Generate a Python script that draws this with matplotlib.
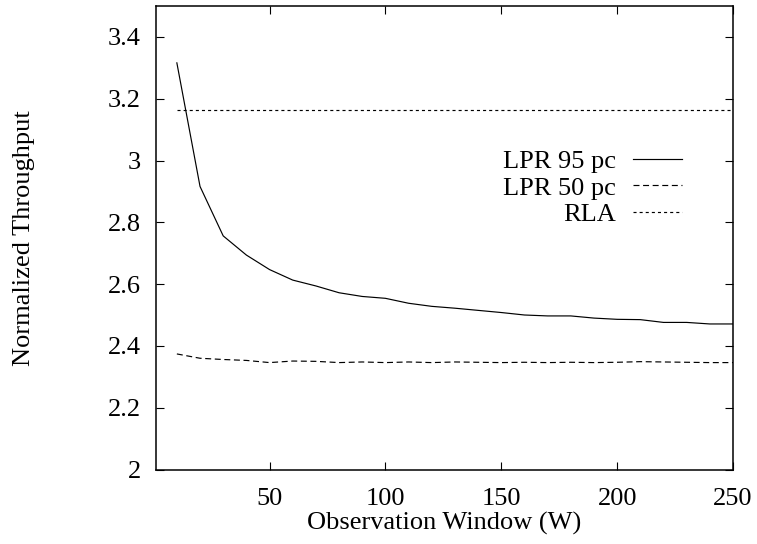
import matplotlib
matplotlib.use("Agg")
import matplotlib.pyplot as plt

plt.rcParams['font.family'] = ['Liberation Serif', 'DejaVu Serif']
plt.rcParams['lines.scale_dashes'] = False

# Observation window sizes
window = [10, 20, 30, 40, 50, 60, 70, 80, 90, 100, 110, 120, 130,
          140, 150, 160, 170, 180, 190, 200, 210, 220, 230, 240, 250]

# Normalized throughput per series
lpr95 = [3.316, 2.916, 2.756, 2.694, 2.647, 2.613, 2.594, 2.572, 2.560,
         2.554, 2.538, 2.528, 2.522, 2.515, 2.508, 2.500, 2.497, 2.497,
         2.490, 2.486, 2.485, 2.476, 2.476, 2.471, 2.471]
lpr50 = [2.374, 2.360, 2.356, 2.353, 2.346, 2.351, 2.350, 2.346, 2.348,
         2.346, 2.348, 2.346, 2.348, 2.347, 2.346, 2.347, 2.346, 2.347,
         2.346, 2.347, 2.349, 2.348, 2.347, 2.346, 2.346]
rla = [3.163] * len(window)

series_labels = ["LPR 95 pc", "LPR 50 pc", "RLA"]
xticks = [50, 100, 150, 200, 250]
yticks = [2.0, 2.2, 2.4, 2.6, 2.8, 3.0, 3.2, 3.4]
ytick_labels = ["2", "2.2", "2.4", "2.6", "2.8", "3", "3.2", "3.4"]

W, H = 757, 544
fig = plt.figure(figsize=(W / 100, H / 100), dpi=100)
ax = fig.add_axes([156 / W, (H - 469.5) / H, (733 - 156) / W, (469.5 - 6) / H])

fs = 19
lw = 0.85
ax.plot(window, lpr95, color='black', lw=lw, linestyle='-', label=series_labels[0])
ax.plot(window, lpr50, color='black', lw=lw, linestyle=(0, (4.3, 2.6)), label=series_labels[1])
ax.plot(window, rla, color='black', lw=lw, linestyle=(0, (2.2, 2.2)), label=series_labels[2])

ax.set_xlim(1, 250)
ax.set_ylim(2.0, 3.5)
ax.set_xticks(xticks)
ax.set_xticklabels([str(t) for t in xticks])
ax.set_yticks(yticks)
ax.set_yticklabels(ytick_labels)
ax.tick_params(direction='in', length=6, width=0.8, top=True, right=True,
               labelsize=fs, pad=11, colors='black')
ax.tick_params(axis='x', pad=13)
for s in ax.spines.values():
    s.set_linewidth(1.1)
    s.set_color('black')

ax.set_xlabel("Observation Window (W)", fontsize=fs, labelpad=2)
ax.set_ylabel("Normalized Throughput", fontsize=fs, labelpad=52)

leg = ax.legend(loc='upper right', bbox_to_anchor=(682 / W, (H - 149.5) / H),
                bbox_transform=fig.transFigure, frameon=False, markerfirst=False,
                fontsize=fs, handlelength=1.85, handletextpad=0.65,
                labelspacing=0.12, borderpad=0, borderaxespad=0)
for t in leg.get_texts():
    t.set_ha('right')

fig.savefig("out.png", dpi=100)
